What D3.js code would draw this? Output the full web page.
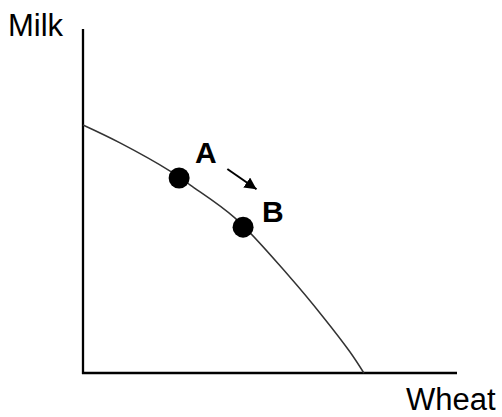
<!DOCTYPE html>
<html>
<head>
<meta charset="utf-8">
<script src="https://cdn.jsdelivr.net/npm/d3@7"></script>
<style>
  body { margin: 0; background: #fff; }
  text { font-family: "Liberation Sans", Arial, sans-serif; }
</style>
</head>
<body>
<div id="chart"></div>
<script>
const width = 502;
const height = 417;

// curve of the frontier (wheat, milk), in axis units 0..100
const curveWheat = [0, 9.9, 23.3, 28.6, 40.6, 55.3, 64.2, 71.4, 75.1];
const curveMilk  = [72.1, 66.9, 58.7, 54.7, 45.1, 27.9, 16.3, 6.1, 0];

// the two points on it
const pointLabels = ["A", "B"];
const pointWheat = [25.7, 42.8];
const pointMilk  = [56.7, 42.4];

// arrow from A towards B
const arrowWheat = [38.6, 46.4];
const arrowMilk  = [59.3, 53.4];

const xLabel = "Wheat";
const yLabel = "Milk";

const svg = d3.select("#chart")
    .append("svg")
    .attr("width", width)
    .attr("height", height);

const x = d3.scaleLinear().domain([0, 100]).range([83, 457]);
const y = d3.scaleLinear().domain([0, 100]).range([373, 29]);

svg.append("defs").append("marker")
    .attr("id", "head")
    .attr("viewBox", "0 0 10 10")
    .attr("refX", 10).attr("refY", 5)
    .attr("markerWidth", 6).attr("markerHeight", 6)
    .attr("markerUnits", "strokeWidth")
    .attr("orient", "auto")
    .append("path")
    .attr("d", "M0,0L10,5L0,10Z")
    .attr("fill", "#000");

// axes (plain lines, no ticks)
svg.append("line")
    .attr("x1", x(0)).attr("x2", x(0))
    .attr("y1", y(100)).attr("y2", y(0) + 1)
    .attr("stroke", "#000").attr("stroke-width", 2.3);
svg.append("line")
    .attr("x1", x(0) - 1).attr("x2", x(100))
    .attr("y1", y(0)).attr("y2", y(0))
    .attr("stroke", "#000").attr("stroke-width", 2.3);

// frontier
const curve = curveWheat.map((w, i) => [w, curveMilk[i]]);
svg.append("path")
    .datum(curve)
    .attr("fill", "none")
    .attr("stroke", "#333")
    .attr("stroke-width", 1.5)
    .attr("d", d3.line().x(d => x(d[0])).y(d => y(d[1])).curve(d3.curveCatmullRom.alpha(0.5)));

// points
svg.selectAll(".pt")
    .data(pointLabels)
    .join("circle")
    .attr("class", "pt")
    .attr("cx", (d, i) => x(pointWheat[i]))
    .attr("cy", (d, i) => y(pointMilk[i]))
    .attr("r", 10.5)
    .attr("fill", "#000");

svg.selectAll(".pt-label")
    .data(pointLabels)
    .join("text")
    .attr("class", "pt-label")
    .attr("x", (d, i) => x(pointWheat[i]) + (i === 0 ? 16 : 19))
    .attr("y", (d, i) => y(pointMilk[i]) + (i === 0 ? -15 : -5))
    .attr("font-size", 30)
    .attr("font-weight", "bold")
    .text(d => d);

// arrow
svg.append("line")
    .attr("x1", x(arrowWheat[0])).attr("y1", y(arrowMilk[0]))
    .attr("x2", x(arrowWheat[1])).attr("y2", y(arrowMilk[1]))
    .attr("stroke", "#000").attr("stroke-width", 2)
    .attr("marker-end", "url(#head)");

// axis labels
svg.append("text")
    .attr("x", 8).attr("y", 36)
    .attr("font-size", 31)
    .text(yLabel);
svg.append("text")
    .attr("x", 406).attr("y", 410)
    .attr("font-size", 31)
    .text(xLabel);
</script>
</body>
</html>
